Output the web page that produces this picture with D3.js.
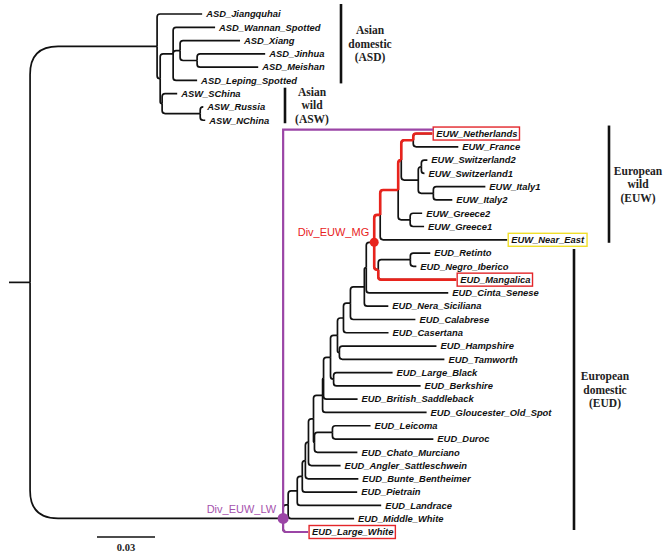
<!DOCTYPE html>
<html><head><meta charset="utf-8">
<script src="https://cdn.jsdelivr.net/npm/d3@7"></script>
<style>body{margin:0;background:#fff}svg{display:block}</style>
</head><body>
<script>
// ---- leaves in display order ----
const leafNames = [
 "ASD_Jiangquhai","ASD_Wannan_Spotted","ASD_Xiang","ASD_Jinhua","ASD_Meishan","ASD_Leping_Spotted",
 "ASW_SChina","ASW_Russia","ASW_NChina",
 "EUW_Netherlands","EUW_France","EUW_Switzerland2","EUW_Switzerland1","EUW_Italy1","EUW_Italy2",
 "EUW_Greece2","EUW_Greece1","EUW_Near_East",
 "EUD_Retinto","EUD_Negro_Iberico","EUD_Mangalica","EUD_Cinta_Senese","EUD_Nera_Siciliana","EUD_Calabrese",
 "EUD_Casertana","EUD_Hampshire","EUD_Tamworth","EUD_Large_Black","EUD_Berkshire","EUD_British_Saddleback",
 "EUD_Gloucester_Old_Spot","EUD_Leicoma","EUD_Duroc","EUD_Chato_Murciano","EUD_Angler_Sattleschwein",
 "EUD_Bunte_Bentheimer","EUD_Pietrain","EUD_Landrace","EUD_Middle_White","EUD_Large_White"
];
// ---- tree: node, parent, branch length (substitutions/site) ----
const nodeNames = [
 "root","A1","ASD_Jiangquhai","A2","A4","ASD_Wannan_Spotted","A5","ASD_Xiang","A6","ASD_Jinhua","ASD_Meishan",
 "ASD_Leping_Spotted","ASWg","ASW_SChina","RusN","ASW_Russia","ASW_NChina",
 "N1","N2","N3","N4","N5","N6","N7","P8","P7","P6","P5","P4","P3","P2","P1","MG","E1","EC","EA","NF",
 "EUW_Netherlands","EUW_France","SI","SW","EUW_Switzerland2","EUW_Switzerland1","IT","EUW_Italy1","EUW_Italy2",
 "GR","EUW_Greece2","EUW_Greece1","EUW_Near_East","IB","RN","EUD_Retinto","EUD_Negro_Iberico","EUD_Mangalica",
 "EUD_Cinta_Senese","EUD_Nera_Siciliana","EUD_Calabrese","EUD_Casertana","HT","EUD_Hampshire","EUD_Tamworth",
 "LBB","EUD_Large_Black","EUD_Berkshire","EUD_British_Saddleback","EUD_Gloucester_Old_Spot","N7b","LD",
 "EUD_Leicoma","EUD_Duroc","EUD_Chato_Murciano","EUD_Angler_Sattleschwein","EUD_Bunte_Bentheimer",
 "EUD_Pietrain","EUD_Landrace","EUD_Middle_White","EUD_Large_White"
];
const parentNames = [
 "","root","A1","A1","A2","A4","A4","A5","A5","A6","A6",
 "A4","A2","ASWg","ASWg","RusN","RusN",
 "root","N1","N2","N3","N4","N5","N6","N7","P8","P7","P6","P5","P4","P3","P2","P1","MG","E1","EC","EA",
 "NF","NF","EA","SI","SW","SW","SI","IT","IT",
 "EC","GR","GR","E1","MG","IB","RN","RN","IB",
 "P1","P2","P3","P4","P5","HT","HT",
 "P6","LBB","LBB","P7","P8","N7","N7b",
 "LD","LD","N7b","N6","N5",
 "N4","N3","N2","N1"
];
const branchLengths = [
 0.0109,0.0657,0.0233,0.0016,0.0067,0.0217,0.0036,0.0310,0.0088,0.0352,0.0316,
 0.0124,0.0010,0.0078,0.0197,0.0016,0.0026,
 0.1309,0.0026,0.0047,0.0026,0.0016,0.0016,0.0026,0.0047,0.0005,0.0036,0.0036,0.0031,0.0036,0.0072,0.0010,0.0041,0.0031,0.0093,0.0016,0.0062,
 0.0098,0.0233,0.0088,0.0016,0.0031,0.0016,0.0078,0.0269,0.0098,
 0.0062,0.0062,0.0072,0.0657,0.0021,0.0166,0.0103,0.0031,0.0403,
 0.0424,0.0124,0.0336,0.0233,0.0010,0.0502,0.0543,
 0.0016,0.0305,0.0450,0.0176,0.0538,0.0005,0.0093,
 0.0197,0.0522,0.0222,0.0166,0.0274,
 0.0284,0.0434,0.0341,0.0129
];
// highlights
const redBoxLeaves = ["EUW_Netherlands","EUD_Mangalica","EUD_Large_White"];
const yellowBoxLeaves = ["EUW_Near_East"];
const divNodes = ["MG","N1"];
const divLabels = ["Div_EUW_MG","Div_EUW_LW"];
const divColors = ["#e8231c","#9b45a6"];
const redPathLeaves = ["EUW_Netherlands","EUD_Mangalica"];
// group brackets
const groupLines = [["Asian","domestic","(ASD)"],["Asian","wild","(ASW)"],["European","wild","(EUW)"],["European","domestic","(EUD)"]];
const groupFirst = ["ASD_Jiangquhai","ASW_SChina","EUW_Netherlands","EUD_Retinto"];
const groupLast = ["ASD_Leping_Spotted","ASW_NChina","EUW_Near_East","EUD_Large_White"];
const scaleBarValue = 0.03;

// ---------- layout ----------
const W = 669, H = 559;
const svg = d3.select("body").append("svg").attr("width", W).attr("height", H);

const table = nodeNames.map((n,i)=>({id:n, parent:parentNames[i]||null, len:branchLengths[i]}));
const root = d3.stratify().id(d=>d.id).parentId(d=>d.parent)(table);

const x = d3.scaleLinear().domain([0, scaleBarValue]).range([9, 67]);
const y = d3.scalePoint().domain(leafNames).range([14, 532]);

root.eachBefore(d => { d.depthLen = (d.parent ? d.parent.depthLen : 0) + d.data.len; d.px = x(d.depthLen); });
root.eachAfter(d => {
  if (!d.children) d.py = y(d.id);
  else d.py = (d.children[0].py + d.children[d.children.length-1].py) / 2;
});
const byId = new Map(root.descendants().map(d=>[d.id,d]));

function elbow(d) {
  const p = d.parent;
  let r = p === root ? 28 : 3;
  const dy = d.py - p.py;
  r = Math.min(r, Math.abs(dy), d.px - p.px);
  const s = Math.sign(dy);
  if (r < 0.6) return `M${p.px},${p.py}V${d.py}H${d.px}`;
  return `M${p.px},${p.py}V${d.py - s*r}Q${p.px},${d.py} ${p.px + r},${d.py}H${d.px}`;
}

const g = svg.append("g");
// root stub
g.append("path").attr("d", `M${x(0)},${root.py}H${root.px}`).attr("stroke","#111").attr("stroke-width",1.7).attr("fill","none");
g.selectAll("path.edge").data(root.descendants().filter(d=>d.parent)).join("path")
  .attr("class","edge").attr("d", elbow).attr("fill","none").attr("stroke","#111").attr("stroke-width",1.7);

// red highlight paths
const mg = byId.get("MG");
redPathLeaves.forEach(l => {
  mg.path(byId.get(l)).slice(1).forEach(d => {
    g.append("path").attr("d", elbow(d)).attr("fill","none").attr("stroke",divColors[0]).attr("stroke-width",2.6);
  });
});

// leaf labels
const labels = g.selectAll("text.leaf").data(root.leaves()).join("text")
  .attr("class","leaf").attr("x", d=>d.px + 4).attr("y", d=>d.py).attr("dy","0.35em")
  .attr("font-family","'Liberation Sans', Arial, sans-serif").attr("font-style","italic").attr("font-weight","bold")
  .attr("font-size", 9.4).attr("fill","#111")
  .text(d=>d.id);

// boxes
labels.each(function(d){
  const isRed = redBoxLeaves.includes(d.id), isYel = yellowBoxLeaves.includes(d.id);
  if (!isRed && !isYel) return;
  const b = this.getBBox();
  g.insert("rect", "text.leaf").attr("x", d.px + 1).attr("y", d.py - 6.5)
    .attr("width", b.x + b.width + 2 - (d.px + 1)).attr("height", 13)
    .attr("fill","none").attr("stroke", isRed ? "#e3262a" : "#f0df2a").attr("stroke-width",1.4);
});

// purple bracket (Div_EUW_LW)
const n1 = byId.get("N1"), neth = byId.get("EUW_Netherlands"), lw = byId.get("EUD_Large_White");
g.append("path").attr("d", elbow(lw)).attr("fill","none").attr("stroke",divColors[1]).attr("stroke-width",2.2);
g.append("path").attr("d", `M${n1.px},${n1.py}V${neth.py-4}H${neth.px+1}`)
  .attr("fill","none").attr("stroke",divColors[1]).attr("stroke-width",2.2);

// divergence dots + labels
divNodes.forEach((id,i) => {
  const d = byId.get(id);
  g.append("circle").attr("cx", d.px).attr("cy", d.py).attr("r", i===0 ? 4.5 : 5.5).attr("fill", divColors[i]);
  g.append("text").attr("x", d.px - (i===0 ? 5 : 7)).attr("y", d.py - (i===0 ? 10 : 9)).attr("dy","0.35em")
    .attr("text-anchor","end").attr("font-family","'Liberation Sans', Arial, sans-serif").attr("font-size",11)
    .attr("fill", i===0 ? divColors[0] : "#a552ad").text(divLabels[i]);
});

// group brackets
const barX = [341, 285, 609, 574], textX = [370, 312, 638, 605];
const barPadTop = [10, 6, 8, 4], barPadBot = [3, 3, 3, -2];
groupLines.forEach((lines,i) => {
  const y0 = y(groupFirst[i]) - barPadTop[i], y1 = y(groupLast[i]) + barPadBot[i];
  g.append("line").attr("x1",barX[i]).attr("x2",barX[i]).attr("y1",y0).attr("y2",y1)
    .attr("stroke","#111").attr("stroke-width",2.6);
  const cy = (y0 + y1)/2;
  const t = g.append("text").attr("text-anchor","middle").attr("font-family","'Liberation Serif', 'Times New Roman', serif")
    .attr("font-weight","bold").attr("font-size",11.5).attr("fill","#222");
  lines.forEach((ln,k) => t.append("tspan").attr("x", textX[i]).attr("y", cy + (k-1)*13.5).attr("dy","0.35em").text(ln));
});

// scale bar
const sbX0 = 97, sbY = 537;
g.append("line").attr("x1", sbX0).attr("x2", sbX0 + x(scaleBarValue) - x(0)).attr("y1", sbY).attr("y2", sbY)
  .attr("stroke","#111").attr("stroke-width",1.5);
g.append("text").attr("x", sbX0 + (x(scaleBarValue)-x(0))/2).attr("y", sbY + 14).attr("text-anchor","middle")
  .attr("font-family","'Liberation Serif', 'Times New Roman', serif").attr("font-weight","bold").attr("font-size",10.5)
  .attr("fill","#222").text(scaleBarValue.toFixed(2));
</script>
</body></html>
